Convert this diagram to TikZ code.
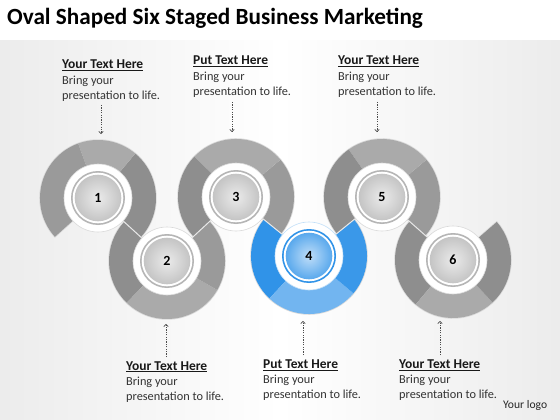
\documentclass[tikz,border=0pt]{standalone}
\usepackage{fontspec}
\setmainfont{Carlito}
\usetikzlibrary{arrows.meta,calc}
\definecolor{gA}{HTML}{8E8E8E}
\definecolor{gB}{HTML}{AAAAAA}
\definecolor{gC}{HTML}{9A9A9A}
\definecolor{bA}{HTML}{3093E8}
\definecolor{bB}{HTML}{72B5F0}
\definecolor{bC}{HTML}{3A98E9}
\newcommand\rseg[4]{%
  \fill[#4] ($(#1)+(#2:58pt)$) arc[start angle=#2,end angle=#3,radius=58pt]
    -- ($(#1)+(#3:34pt)$) arc[start angle=#3,end angle=#2,radius=34pt] -- cycle;}
\newcommand\rglow[3]{%
  \draw[ringglow] ($(#1)+(#2:58pt)$) arc[start angle=#2,end angle=#3,radius=58pt]
    -- ($(#1)+(#3:34pt)$) arc[start angle=#3,end angle=#2,radius=34pt] -- cycle;}
\newcommand\grybtn[1]{%
  \fill[white] (#1) circle[radius=34pt];
  \draw[gray!30,line width=.6pt] (#1) circle[radius=34pt];
  \fill[gray!58] (#1) circle[radius=27pt];
  \fill[white] (#1) circle[radius=25.3pt];
  \shade[inner color=gray!16,outer color=gray!46] (#1) circle[radius=23.3pt];}
\newcommand\bluebtn[1]{%
  \fill[white] (#1) circle[radius=34pt];
  \draw[bA!30,line width=.6pt] (#1) circle[radius=34pt];
  \fill[bA] (#1) circle[radius=27pt];
  \fill[white] (#1) circle[radius=25.3pt];
  \shade[inner color=bB!45,outer color=bA!80] (#1) circle[radius=23.3pt];}
\tikzset{
  ringglow/.style={draw=gray!28,line width=1.6pt,line join=round},
  sepline/.style={draw=white!82!gray,line width=1pt},
  numlbl/.style={font=\bfseries\fontsize{14}{16}\selectfont,text=black,inner sep=0pt},
  headtxt/.style={anchor=base west,inner sep=0pt,font=\bfseries\fontsize{13.5}{15}\selectfont,text=black!90},
  bodytxt/.style={anchor=base west,inner sep=0pt,font=\fontsize{12.3}{14}\selectfont,text=black!80},
  dotarrow/.style={draw=gray!60!black,line width=.6pt,dash pattern=on 1.2pt off 1.2pt,
     -{Straight Barb[length=2.2pt,width=4.5pt]}}
}
\begin{document}
\begin{tikzpicture}[x=1pt,y=1pt]
\useasboundingbox (0,0) rectangle (560,-420);
\fill[white] (0,0) rectangle (560,-420);
\shade[left color=gray!15,right color=gray!15,middle color=white] (0,-41) rectangle (560,-420);
% title
\node[anchor=base west,inner sep=0pt,font=\bfseries\fontsize{23.2}{27}\selectfont] (title) at (7,-25) {Oval Shaped Six Staged Business Marketing};
% centers
\coordinate (c1) at (98,-198);
\coordinate (c2) at (167,-261);
\coordinate (c3) at (236,-197);
\coordinate (c4) at (309,-256);
\coordinate (c5) at (382,-197);
\coordinate (c6) at (453,-260);
% glow outlines
\rglow{c1}{-42.4}{222}
\rglow{c2}{137.6}{402.8}
\rglow{c3}{-38.9}{222.8}
\rglow{c4}{141.1}{398.9}
\rglow{c5}{-41.6}{218.9}
\rglow{c6}{138.4}{401}
% ring 1
\rseg{c1}{-42.4}{50}{gA}
\rseg{c1}{50}{110}{gB}
\rseg{c1}{110}{222}{gC}
% ring 2
\rseg{c2}{137.6}{226}{gA}
\rseg{c2}{226}{330}{gB}
\rseg{c2}{330}{402.8}{gC}
% ring 3
\rseg{c3}{-38.9}{40}{gC}
\rseg{c3}{40}{136}{gB}
\rseg{c3}{136}{222.8}{gA}
% ring 4
\rseg{c4}{141.1}{227}{bA}
\rseg{c4}{227}{320}{bB}
\rseg{c4}{320}{398.9}{bC}
% ring 5
\rseg{c5}{-41.6}{40}{gC}
\rseg{c5}{40}{125}{gB}
\rseg{c5}{125}{218.9}{gA}
% ring 6
\rseg{c6}{138.4}{230}{gA}
\rseg{c6}{230}{313}{gB}
\rseg{c6}{313}{401}{gA}
% separators
\draw[sepline] ($(c1)!34pt!(c2)$) -- ($(c2)!34pt!(c1)$);
\draw[sepline] ($(c2)!34pt!(c3)$) -- ($(c3)!34pt!(c2)$);
\draw[sepline] ($(c3)!34pt!(c4)$) -- ($(c4)!34pt!(c3)$);
\draw[sepline] ($(c4)!34pt!(c5)$) -- ($(c5)!34pt!(c4)$);
\draw[sepline] ($(c5)!34pt!(c6)$) -- ($(c6)!34pt!(c5)$);
% buttons
\grybtn{c1}
\grybtn{c2}
\grybtn{c3}
\bluebtn{c4}
\grybtn{c5}
\grybtn{c6}
\node[numlbl] (n1) at (c1) {1};
\node[numlbl] (n2) at (c2) {2};
\node[numlbl] (n3) at (c3) {3};
\node[numlbl] (n4) at (c4) {4};
\node[numlbl] (n5) at (c5) {5};
\node[numlbl] (n6) at (c6) {6};
% top texts
\node[headtxt] (h1) at (62,-68.3) {\underline{Your Text Here}};
\node[bodytxt] (b1a) at (62,-84.3) {Bring your};
\node[bodytxt] (b1b) at (62,-99.3) {presentation to life.};
\node[headtxt] (h3) at (193,-65) {\underline{Put Text Here}};
\node[bodytxt] (b3a) at (193,-80.5) {Bring your};
\node[bodytxt] (b3b) at (193,-95.5) {presentation to life.};
\node[headtxt] (h5) at (338,-65) {\underline{Your Text Here}};
\node[bodytxt] (b5a) at (338,-80.5) {Bring your};
\node[bodytxt] (b5b) at (338,-95.5) {presentation to life.};
% bottom texts
\node[headtxt] (h2) at (126,-370) {\underline{Your Text Here}};
\node[bodytxt] (b2a) at (126,-385.7) {Bring your};
\node[bodytxt] (b2b) at (126,-400.7) {presentation to life.};
\node[headtxt] (h4) at (263,-368.3) {\underline{Put Text Here}};
\node[bodytxt] (b4a) at (263,-383.3) {Bring your};
\node[bodytxt] (b4b) at (263,-398.3) {presentation to life.};
\node[headtxt] (h6) at (399,-368.3) {\underline{Your Text Here}};
\node[bodytxt] (b6a) at (399,-383.3) {Bring your};
\node[bodytxt] (b6b) at (399,-398.3) {presentation to life.};
\node[anchor=base west,inner sep=0pt,font=\fontsize{11.6}{13}\selectfont,text=black!85] (logo) at (503,-408.3) {Your logo};
% arrows
\coordinate (s1) at (101,-105);  \coordinate (e1) at (101,-134);
\coordinate (s3) at (232,-102);  \coordinate (e3) at (232,-132);
\coordinate (s5) at (377,-102);  \coordinate (e5) at (377,-132);
\coordinate (s2) at (166,-357);  \coordinate (e2) at (166,-324);
\coordinate (s4) at (303,-355);  \coordinate (e4) at (303,-321);
\coordinate (s6) at (440,-355);  \coordinate (e6) at (440,-321);
\draw[dotarrow] (s1) -- (e1);
\draw[dotarrow] (s3) -- (e3);
\draw[dotarrow] (s5) -- (e5);
\draw[dotarrow] (s2) -- (e2);
\draw[dotarrow] (s4) -- (e4);
\draw[dotarrow] (s6) -- (e6);
\end{tikzpicture}
\end{document}
